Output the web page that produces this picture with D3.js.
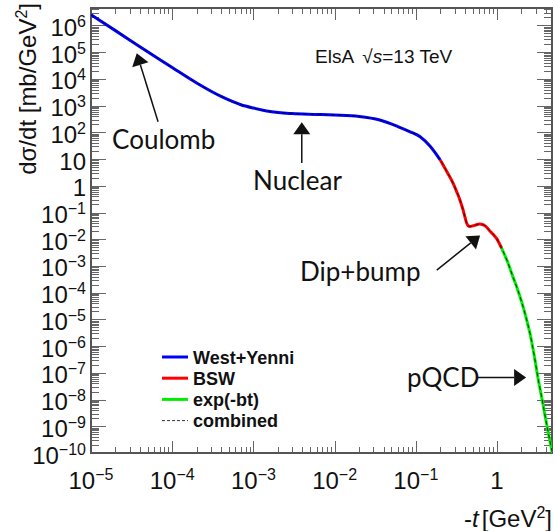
<!DOCTYPE html>
<html>
<head>
<meta charset="utf-8">
<script src="https://cdn.jsdelivr.net/npm/d3@7"></script>
<style>
  body { margin: 0; background: #fff; }
  svg { display: block; }
</style>
</head>
<body>
<div id="chart"></div>
<script>
// values (t in GeV^2, dsigma/dt in mb/GeV^2)
const westYenniT = [1e-5, 2e-5, 4e-5, 7e-5, 1e-4, 2e-4, 4e-4, 7e-4, 1e-3, 1.6e-3, 3e-3, 6e-3, 1e-2, 2e-2, 3.6e-2, 6e-2, 8.5e-2, 0.113, 0.15, 0.2];
const westYenniV = [2.5e6, 6.4e5, 1.6e5, 5.3e4, 2.65e4, 7.0e3, 2.2e3, 1.08e3, 810, 600, 505, 470, 445, 395, 290, 165, 105, 68, 30, 9.2];

const bswT = [0.2, 0.25, 0.287, 0.32, 0.35, 0.38, 0.404, 0.42, 0.44, 0.465, 0.5, 0.56, 0.61, 0.66, 0.72, 0.82, 0.9, 0.99, 1.06, 1.14];
const bswV = [9.2, 2.75, 1.26, 0.58, 0.29, 0.13, 0.065, 0.042, 0.032, 0.030, 0.0315, 0.035, 0.0368, 0.0355, 0.031, 0.020, 0.015, 0.0105, 0.0072, 0.0046];

const expT = [1.14, 1.35, 1.57, 1.8, 2.01, 2.3, 2.55, 2.9, 3.23, 3.5, 3.79, 4.29, 4.8];
const expV = [4.6e-3, 1.4e-3, 3.9e-4, 1.26e-4, 4.5e-5, 1.05e-5, 2.9e-6, 3.7e-7, 5.2e-8, 1.5e-8, 4e-9, 5.4e-10, 1e-10];

const seriesNames = ["West+Yenni", "BSW", "exp(-bt)", "combined"];
const seriesColors = ["#0000ff", "#ff0000", "#00ee00", "#000"];

const xTicks = [1e-5, 1e-4, 1e-3, 1e-2, 1e-1, 1];
const xTickLabels = [["10", "\u22125"], ["10", "\u22124"], ["10", "\u22123"], ["10", "\u22122"], ["10", "\u22121"], ["1", ""]];
const yTicks = [1e6, 1e5, 1e4, 1e3, 1e2, 10, 1, 1e-1, 1e-2, 1e-3, 1e-4, 1e-5, 1e-6, 1e-7, 1e-8, 1e-9, 1e-10];
const yTickLabels = [["10", "6"], ["10", "5"], ["10", "4"], ["10", "3"], ["10", "2"], ["10", ""], ["1", ""],
    ["10", "\u22121"], ["10", "\u22122"], ["10", "\u22123"], ["10", "\u22124"], ["10", "\u22125"], ["10", "\u22126"],
    ["10", "\u22127"], ["10", "\u22128"], ["10", "\u22129"], ["10", "\u221210"]];

// annotations: text left/baseline point and arrow tail/tip in data coordinates
const annotations = [
    { text: "Coulomb", at: [1.82e-5, 24], tail: [6.7e-5, 250], tip: [3.66e-5, 9.1e4] },
    { text: "Nuclear", at: [9.9e-4, 0.69], tail: [3.94e-3, 7.1], tip: [3.94e-3, 237] },
    { text: "Dip+bump", at: [3.75e-3, 2.7e-4], tail: [0.181, 7e-4], tip: [0.618, 0.0139] },
    { text: "pQCD", at: [0.078, 2.9e-8], tail: [0.583, 6.7e-8], tip: [2.28, 6.7e-8] }
];

const width = 555, height = 531;
const plot = { left: 91, right: 552, top: 8, bottom: 453 };

const svg = d3.select("#chart").append("svg")
    .attr("width", width).attr("height", height)
    .style("font-family", "'Liberation Sans', Arial, sans-serif");

const x = d3.scaleLog().domain([1e-5, 4.75]).range([plot.left, plot.right]);
const y = d3.scaleLog().domain([1e-10, 4.5e6]).range([plot.bottom, plot.top]);

svg.append("defs").append("clipPath").attr("id", "plot-clip")
    .append("rect")
    .attr("x", plot.left).attr("y", plot.top)
    .attr("width", plot.right - plot.left).attr("height", plot.bottom - plot.top);

// ticks (ROOT style, inside the frame on all four sides)
const xMinor = [], yMinor = [];
d3.range(-5, 1).forEach(d => d3.range(2, 10).forEach(m => { const v = m * Math.pow(10, d); if (v < 4.75) xMinor.push(v); }));
d3.range(-10, 7).forEach(d => d3.range(2, 10).forEach(m => { const v = m * Math.pow(10, d); if (v < 4.5e6) yMinor.push(v); }));

const ticks = svg.append("g").attr("stroke", "#666").attr("stroke-width", 1);
function vTicks(vals, len) {
    vals.forEach(v => {
        const px = Math.round(x(v)) + 0.5;
        ticks.append("line").attr("x1", px).attr("x2", px).attr("y1", plot.bottom).attr("y2", plot.bottom - len);
        ticks.append("line").attr("x1", px).attr("x2", px).attr("y1", plot.top).attr("y2", plot.top + len);
    });
}
function hTicks(vals, len) {
    vals.forEach(v => {
        const py = Math.round(y(v)) + 0.5;
        ticks.append("line").attr("y1", py).attr("y2", py).attr("x1", plot.left).attr("x2", plot.left + len);
        ticks.append("line").attr("y1", py).attr("y2", py).attr("x1", plot.right).attr("x2", plot.right - len);
    });
}
vTicks(xTicks, 12);
vTicks(xMinor, 6);
hTicks(yTicks, 15);
hTicks(yMinor, 8);

svg.append("rect")
    .attr("x", plot.left).attr("y", plot.top)
    .attr("width", plot.right - plot.left).attr("height", plot.bottom - plot.top)
    .attr("fill", "none").attr("stroke", "#555").attr("stroke-width", 2);

// tick labels with superscript exponents
function powerLabel(t, lab) {
    t.append("tspan").text(lab[0]);
    if (lab[1]) t.append("tspan").attr("dy", -9).attr("font-size", 16).text(lab[1]);
}
xTicks.forEach((v, i) => {
    const t = svg.append("text").attr("x", x(v)).attr("y", 489)
        .attr("text-anchor", "middle").attr("font-size", 24).attr("fill", "#111");
    powerLabel(t, xTickLabels[i]);
});
yTicks.forEach((v, i) => {
    const t = svg.append("text").attr("x", 86).attr("y", y(v) + 10.5)
        .attr("text-anchor", "end").attr("font-size", 24).attr("fill", "#111");
    powerLabel(t, yTickLabels[i]);
});

// axis titles
const xt = svg.append("text").attr("x", 552).attr("y", 527)
    .attr("text-anchor", "end").attr("font-size", 24).attr("fill", "#111");
xt.append("tspan").text("-");
xt.append("tspan").attr("font-style", "italic").text("t");
xt.append("tspan").attr("dx", 3).text("[GeV");
xt.append("tspan").attr("dy", -9).attr("font-size", 16).text("2");
xt.append("tspan").attr("dy", 9).text("]");

const yt = svg.append("text").attr("transform", "translate(36,3) rotate(-90)")
    .attr("text-anchor", "end").attr("font-size", 24).attr("fill", "#111");
yt.append("tspan").text("d\u03c3/dt [mb/GeV");
yt.append("tspan").attr("dy", -9).attr("font-size", 16).text("2");
yt.append("tspan").attr("dy", 9).text("]");

// energy label
const el = svg.append("text").attr("x", 315).attr("y", 63).attr("font-size", 19).attr("fill", "#111");
el.append("tspan").text("ElsA ");
el.append("tspan").attr("dx", 4).text("\u221a");
el.append("tspan").attr("font-style", "italic").text("s");
el.append("tspan").text("=13 TeV");

// curves
const zip = (ts, vs) => ts.map((t, i) => [t, vs[i]]);
const segments = [zip(westYenniT, westYenniV), zip(bswT, bswV), zip(expT, expV)];
const combined = segments[0].concat(segments[1].slice(1), segments[2].slice(1));

const line = d3.line().x(d => x(d[0])).y(d => y(d[1])).curve(d3.curveMonotoneX);
const curves = svg.append("g").attr("clip-path", "url(#plot-clip)");
segments.forEach((pts, i) => {
    curves.append("path").datum(pts)
        .attr("d", line).attr("fill", "none")
        .attr("stroke", seriesColors[i]).attr("stroke-width", 3);
});
curves.append("path").datum(combined)
    .attr("d", line).attr("fill", "none")
    .attr("stroke", "#000").attr("stroke-width", 0.8).attr("stroke-dasharray", "4,3");

// annotations
const ann = svg.append("g").attr("fill", "#111");
annotations.forEach(a => {
    ann.append("text").attr("x", x(a.at[0])).attr("y", y(a.at[1]))
        .attr("text-anchor", "start").attr("font-size", 26)
        .attr("font-family", "Lato, 'Open Sans', sans-serif").text(a.text);
    const x0 = x(a.tail[0]), y0 = y(a.tail[1]), x1 = x(a.tip[0]), y1 = y(a.tip[1]);
    const len = Math.hypot(x1 - x0, y1 - y0), ux = (x1 - x0) / len, uy = (y1 - y0) / len;
    const hl = 12, hw = 8.5;
    const bx = x1 - ux * hl, by = y1 - uy * hl;
    ann.append("line").attr("x1", x0).attr("y1", y0).attr("x2", bx).attr("y2", by)
        .attr("stroke", "#111").attr("stroke-width", 1.5);
    ann.append("polygon")
        .attr("points", [[x1, y1], [bx - uy * hw, by + ux * hw], [bx + uy * hw, by - ux * hw]].map(p => p.join(",")).join(" "));
});

// legend
const legend = svg.append("g").attr("font-size", 18).attr("font-weight", "bold").attr("fill", "#111");
seriesNames.forEach((name, i) => {
    const cy = 357 + i * 21.2;
    const l = legend.append("line").attr("x1", 162).attr("x2", 188).attr("y1", cy).attr("y2", cy);
    if (i < 3) l.attr("stroke", seriesColors[i]).attr("stroke-width", 3);
    else l.attr("stroke", "#333").attr("stroke-width", 1).attr("stroke-dasharray", "3,2");
    legend.append("text").attr("x", 193).attr("y", cy + 6.5).text(name);
});
</script>
</body>
</html>
